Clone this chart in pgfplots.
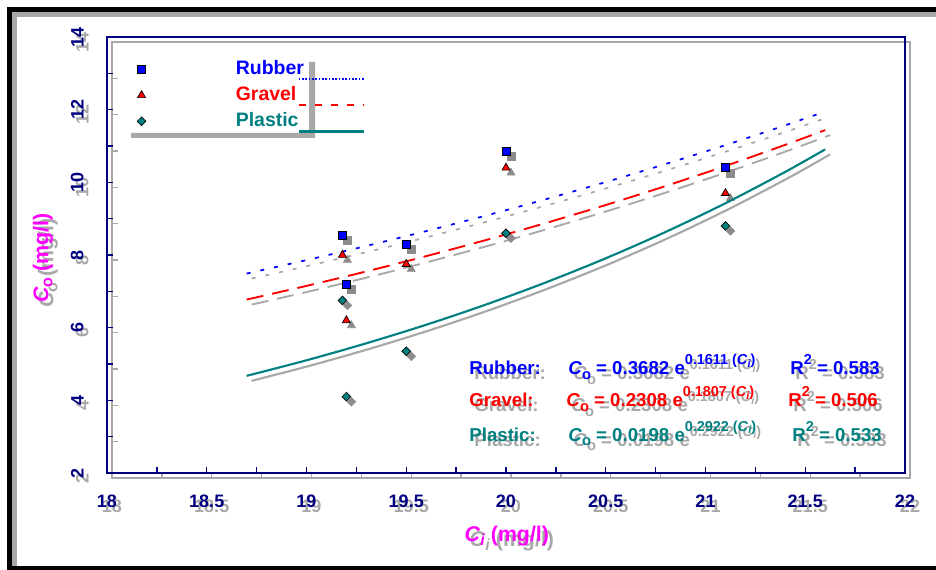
\documentclass[border=0pt]{standalone}
\usepackage{pgfplots}
\pgfplotsset{compat=1.18}
\usepackage{pgfplotstable}
\usepackage{fontspec}
\setmainfont{Liberation Sans}
\definecolor{navy}{RGB}{0,0,128}
\definecolor{tealc}{RGB}{0,128,128}
\definecolor{magc}{RGB}{255,0,255}
\definecolor{bluec}{RGB}{0,0,255}
\definecolor{redc}{RGB}{255,0,0}
\definecolor{shad}{RGB}{168,168,168}
\definecolor{shadm}{RGB}{140,140,140}

\pgfplotstableread{
x y
19.18 8.55
19.20 7.20
19.50 8.30
20.00 10.85
21.10 10.40
}\rubber
\pgfplotstableread{
x y
19.18 8.00
19.20 6.20
19.50 7.75
20.00 10.40
21.10 9.70
}\gravel
\pgfplotstableread{
x y
19.18 6.75
19.20 4.10
19.50 5.35
20.00 8.60
21.10 8.80
}\plastic
\pgfplotstableread{
x r g p
18.7 7.489 6.773 4.674
19.0 7.860 7.150 5.102
19.3 8.249 7.548 5.570
19.6 8.658 7.969 6.080
19.9 9.086 8.413 6.637
20.2 9.536 8.881 7.246
20.5 10.008 9.376 7.909
20.8 10.504 9.898 8.634
21.1 11.024 10.450 9.425
21.4 11.570 11.032 10.288
21.6 11.949 11.438 10.908
}\fits

\newcommand\eqf{\bfseries\fontsize{14}{16}\selectfont}
\newcommand\sups[1]{\raisebox{7.5pt}{\fontsize{10.8}{12}\selectfont #1}}
\newcommand\subo[1]{\raisebox{-3.5pt}{\fontsize{11}{12}\selectfont #1}}
\newcommand\ci{\textit{C}\raisebox{-2pt}{\fontsize{8}{9}\selectfont\textit{i}}}
\newcommand\lblf{\bfseries\fontsize{16}{18}\selectfont}
\newcommand\eqnodes[3]{%
 \node[anchor=base west, text=#1, font=\eqf, inner sep=0pt] at (axis cs:19.815,4.70) {Rubber:};
 \node[anchor=base west, text=#1, font=\eqf, inner sep=0pt] at (axis cs:20.311,4.70) {\textit{C}\subo{o} = 0.3682 e\sups{0.1611 (\ci)}};
 \node[anchor=base west, text=#1, font=\eqf, inner sep=0pt] at (axis cs:21.424,4.70) {R\sups{2} = 0.583};
 \node[anchor=base west, text=#2, font=\eqf, inner sep=0pt] at (axis cs:19.815,3.82) {Gravel:};
 \node[anchor=base west, text=#2, font=\eqf, inner sep=0pt] at (axis cs:20.301,3.82) {\textit{C}\subo{o} = 0.2308 e\sups{0.1807 (\ci)}};
 \node[anchor=base west, text=#2, font=\eqf, inner sep=0pt] at (axis cs:21.414,3.82) {R\sups{2} = 0.506};
 \node[anchor=base west, text=#3, font=\eqf, inner sep=0pt] at (axis cs:19.815,2.88) {Plastic:};
 \node[anchor=base west, text=#3, font=\eqf, inner sep=0pt] at (axis cs:20.311,2.88) {\textit{C}\subo{o} = 0.0198 e\sups{0.2922 (\ci)}};
 \node[anchor=base west, text=#3, font=\eqf, inner sep=0pt] at (axis cs:21.434,2.88) {R\sups{2} = 0.533};
}

\pgfplotsset{
 base/.style={
  scale only axis, width=598.5pt, height=327pt, anchor=south west,
  xmin=18, xmax=22, ymin=2, ymax=14,
  xtick={18,18.5,...,22}, ytick={2,4,...,14},
  minor x tick num=1, minor y tick num=1,
  tick align=inside, tick pos=left,
  major tick length=4.5pt, minor tick length=4.5pt,
  axis line style={line width=1.6pt},
  every tick/.style={line width=1.1pt},
  /pgf/number format/assume math mode=true,
  ticklabel style={font=\bfseries\fontsize{13.5}{16}\selectfont},
  xticklabel style={yshift=-13pt},
  yticklabel style={rotate=90, anchor=south, yshift=14pt},
  xlabel={\textit{C}\raisebox{-3pt}{\fontsize{12}{13}\selectfont\textit{i}} (mg/l)},
  ylabel={\textit{C}\raisebox{-3pt}{\fontsize{12}{13}\selectfont o} (mg/l)},
  every axis x label/.style={at={(axis description cs:0.501,-0.1445)}, anchor=center, font=\lblf},
  every axis y label/.style={at={(axis description cs:-0.0802,0.493)}, anchor=center, rotate=90, font=\lblf},
 },
 legrub/.style={legend image code/.code={
    \draw[mark=square*, mark size=3pt, mark options={fill=bluec, draw=black, line width=0.5pt}, only marks] plot coordinates {(0pt,0pt)};
    \path (-4.5pt,0pt) (70.5pt,0pt);
    \draw[overlay, bluec, line width=1.2pt, dash pattern=on 1.3pt off 1.2pt] (117.75pt,-7.5pt) -- (166.5pt,-7.5pt);
  }},
 leggra/.style={legend image code/.code={
    \draw[mark=triangle*, mark size=3.5pt, mark options={fill=redc, draw=black, line width=0.5pt}, only marks] plot coordinates {(0pt,0pt)};
    \path (-4.5pt,0pt) (70.5pt,0pt);
    \draw[overlay, redc, line width=1.4pt, dash pattern=on 5.25pt off 6.75pt] (117.75pt,-7.5pt) -- (166.5pt,-7.5pt);
  }},
 legpla/.style={legend image code/.code={
    \draw[mark=square*, mark size=2.3pt, mark options={rotate=45, fill=tealc, draw=black, line width=0.5pt}, only marks] plot coordinates {(0pt,0pt)};
    \path (-4.5pt,0pt) (70.5pt,0pt);
    \draw[overlay, tealc, line width=2.2pt] (117.75pt,-7.5pt) -- (166.5pt,-7.5pt);
  }},
}

\begin{document}
\begin{tikzpicture}[x=0.75pt,y=0.75pt]
\useasboundingbox (0,0) rectangle (936,569);
% outer frame
\draw[shad, line width=3.3pt] (936,554.6) -- (14.5,554.6) -- (14.5,0);
\draw[line width=3.75pt] (940,559.3) -- (9.8,559.3) -- (9.8,0.5) -- (940,0.5);

% shadow axis
\begin{axis}[base, at={(84pt,68.25pt)},
  axis line style={shad}, every tick/.append style={shad},
  ticklabel style={text=shad},
  every axis x label/.append style={text=shad}, every axis y label/.append style={text=shad}]
\addplot[forget plot, shad, line width=1.3pt, dash pattern=on 3pt off 7.5pt, smooth] table[x=x,y=r] {\fits};
\addplot[forget plot, shad, line width=1.4pt, dash pattern=on 12.75pt off 6.75pt, smooth] table[x=x,y=g] {\fits};
\addplot[forget plot, shad, line width=1.6pt, smooth] table[x=x,y=p] {\fits};
\addplot[only marks, mark=square*, mark size=3pt, mark options={fill=shadm, draw=shadm}] table {\rubber};
\addplot[only marks, mark=triangle*, mark size=3.5pt, mark options={fill=shadm, draw=shadm}] table {\gravel};
\addplot[only marks, mark=square*, mark size=2.3pt, mark options={rotate=45, fill=shadm, draw=shadm}] table {\plastic};
\eqnodes{shad}{shad}{shad}
\end{axis}

% legend shadow
\fill[shad] (309,507) -- (315,507) -- (315,431) -- (131,431) -- (131,436) -- (309,436) -- cycle;

% main axis
\begin{axis}[base, at={(80.25pt,72pt)},
  axis line style={navy}, every tick/.append style={navy},
  ticklabel style={text=navy},
  every axis x label/.append style={text=magc}, every axis y label/.append style={text=magc},
  legend style={at={(0.0351,0.948)}, anchor=north west, draw=none, fill=none, inner sep=0pt,
    row sep=5.5pt, nodes={inner sep=0pt, text height=11pt, text depth=3pt, font=\bfseries\fontsize{14.6}{16}\selectfont}},
  legend cell align=left]
\addplot[forget plot, bluec, line width=1.3pt, dash pattern=on 3pt off 7.5pt, smooth] table[x=x,y=r] {\fits};
\addplot[forget plot, redc, line width=1.4pt, dash pattern=on 12.75pt off 6.75pt, smooth] table[x=x,y=g] {\fits};
\addplot[forget plot, tealc, line width=1.6pt, smooth] table[x=x,y=p] {\fits};
\addplot[only marks, mark=square*, mark size=3pt, mark options={fill=bluec, draw=black, line width=0.5pt}, legrub] table {\rubber};
\addlegendentry[text=bluec]{Rubber}
\addplot[only marks, mark=triangle*, mark size=3.5pt, mark options={fill=redc, draw=black, line width=0.5pt}, leggra] table {\gravel};
\addlegendentry[text=redc]{Gravel}
\addplot[only marks, mark=square*, mark size=2.3pt, mark options={rotate=45, fill=tealc, draw=black, line width=0.5pt}, legpla] table {\plastic};
\addlegendentry[text=tealc]{Plastic}
\eqnodes{bluec}{redc}{tealc}
\end{axis}
\end{tikzpicture}
\end{document}
